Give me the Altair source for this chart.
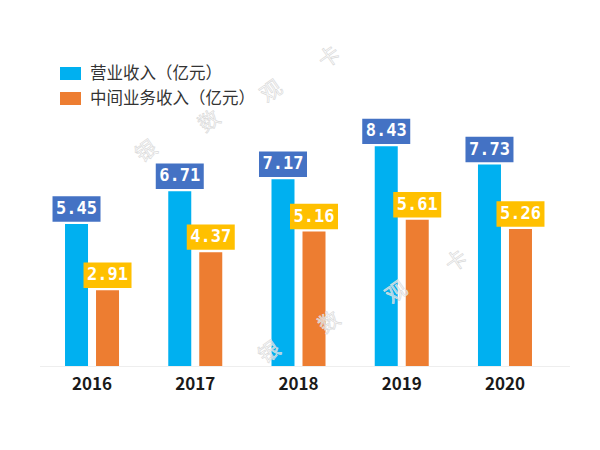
import altair as alt
import pandas as pd

years = ["2016", "2017", "2018", "2019", "2020"]
series_names = ["营业收入（亿元）", "中间业务收入（亿元）"]
revenue = [5.45, 6.71, 7.17, 8.43, 7.73]
mid_revenue = [2.91, 4.37, 5.16, 5.61, 5.26]

bar_colors = ["#00B0F0", "#ED7D31"]
box_colors = ["#4472C4", "#FFC000"]

rows = []
for i, y in enumerate(years):
    rows.append({"year": y, "series": series_names[0], "value": revenue[i], "label": f"{revenue[i]:.2f}"})
    rows.append({"year": y, "series": series_names[1], "value": mid_revenue[i], "label": f"{mid_revenue[i]:.2f}"})
df = pd.DataFrame(rows)
years_df = pd.DataFrame({"year": years})

wm_chars = ["银", "数", "观", "卡", "银", "数", "观", "卡"]
wm_x = [139, 202, 264, 322, 262, 322, 389, 449]
wm_y = [144, 114, 84, 50, 345, 315, 285, 254]
wm_df = pd.DataFrame({"ch": wm_chars, "px": wm_x, "py": wm_y})

xs = alt.Scale(range=[32.4, 548.6], paddingInner=0, paddingOuter=0)
ys = alt.Scale(domain=[0, 13.74], range=[358, 0])
xo = alt.XOffset("series:N", sort=series_names,
                 scale=alt.Scale(paddingInner=0, paddingOuter=0.665))

X = alt.X("year:N", sort=years, scale=xs, axis=None)
Y = alt.Y("value:Q", scale=ys, axis=None)

box_path = "M-1,-0.53H1V0.53H-1Z"

base = alt.Chart(df)

bars = base.mark_bar(width=23).encode(
    x=X, xOffset=xo, y=Y,
    color=alt.Color("series:N", sort=series_names,
                    scale=alt.Scale(domain=series_names, range=bar_colors),
                    legend=alt.Legend(
                        title=None, orient="none", legendX=52, legendY=55,
                        symbolType="M-1,-0.62H1V0.62H-1Z", symbolSize=441,
                        symbolStrokeWidth=0, symbolOpacity=1,
                        labelFontSize=16.5, labelColor="#333333",
                        labelFont="Noto Sans CJK SC", labelOffset=9,
                        labelLimit=400, rowPadding=6, padding=0)),
)

boxes = base.mark_point(shape=box_path, size=2304, filled=True, opacity=1,
                        yOffset=-15, strokeWidth=0).encode(
    x=X, xOffset=xo, y=Y,
    fill=alt.Fill("series:N", sort=series_names,
                  scale=alt.Scale(domain=series_names, range=box_colors),
                  legend=None),
)

labels = base.mark_text(font="DejaVu Sans Mono", fontWeight="bold", fontSize=17,
                        color="white", yOffset=-15, baseline="middle").encode(
    x=X, xOffset=xo, y=Y, text="label:N",
)

baseline = alt.Chart(years_df).mark_rule(color="#eeeeee", strokeWidth=1).encode(
    x=alt.value(32), x2=alt.value(562), y=alt.value(358.5),
)

year_labels = alt.Chart(years_df).mark_text(
    font="Noto Sans CJK SC", fontWeight="bold", fontSize=17, color="#1a1a1a",
    baseline="middle", dy=19).encode(
    x=X, y=alt.Y(datum=0, scale=ys, axis=None), text="year:N",
)

watermark = alt.Chart(wm_df).mark_text(
    font="Noto Sans CJK SC", fontSize=21, fill="#ffffff", fillOpacity=0.6,
    stroke="#dadada", strokeWidth=0.7, angle=325).encode(
    x=alt.X("px:Q", scale=None, axis=None),
    y=alt.Y("py:Q", scale=None, axis=None),
    text="ch:N",
)

chart = alt.layer(baseline, bars, boxes, labels, year_labels, watermark).resolve_scale(
    x="shared", y="independent"
).properties(
    width=584, height=434, autosize="none", padding=0
).configure_view(stroke=None)

chart.save("out.html", embed_options={"renderer": "svg", "actions": False})
